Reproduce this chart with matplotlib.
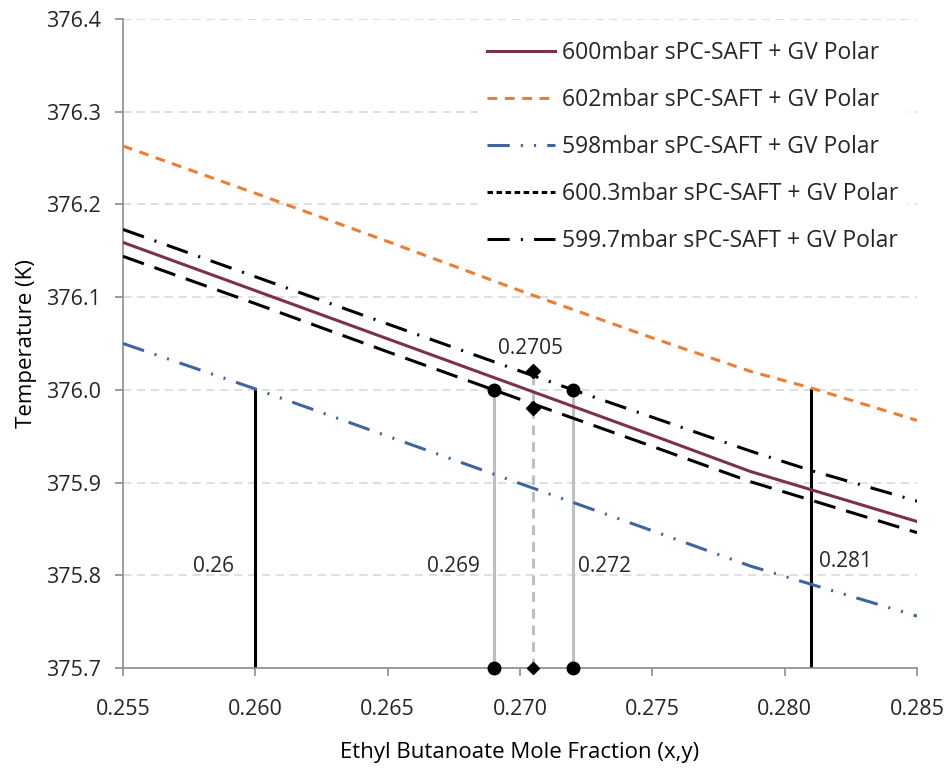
import matplotlib.pyplot as plt
from matplotlib.lines import Line2D

plt.rcParams['font.family'] = ['Open Sans', 'DejaVu Sans']
plt.rcParams['lines.scale_dashes'] = False

# model curves
x600 = [0.255, 0.260, 0.265, 0.270, 0.275, 0.2787, 0.285]
t600 = [376.159, 376.107, 376.055, 376.003, 375.951, 375.912, 375.858]

x602 = [0.255, 0.260, 0.265, 0.270, 0.275, 0.2787, 0.281, 0.285]
t602 = [376.263, 376.212, 376.160, 376.107, 376.056, 376.020, 376.002, 375.967]

x598 = [0.255, 0.260, 0.265, 0.270, 0.275, 0.2787, 0.285]
t598 = [376.050, 376.001, 375.950, 375.899, 375.848, 375.810, 375.756]

x6003 = [0.255, 0.260, 0.265, 0.269, 0.275, 0.2787, 0.281, 0.285]
t6003 = [376.144, 376.093, 376.041, 376.000, 375.939, 375.901, 375.881, 375.846]

x5997 = [0.255, 0.260, 0.265, 0.272, 0.2787, 0.281, 0.285]
t5997 = [376.173, 376.122, 376.071, 376.000, 375.934, 375.913, 375.880]

# vertical markers
x_black = [0.260, 0.281]
x_grey = [0.269, 0.272]
x_mid = 0.2705
t_base = 375.7
t_top = 376.0
t_mid = [376.02, 375.98]

labels = ["600mbar sPC-SAFT + GV Polar",
          "602mbar sPC-SAFT + GV Polar",
          "598mbar sPC-SAFT + GV Polar",
          "600.3mbar sPC-SAFT + GV Polar",
          "599.7mbar sPC-SAFT + GV Polar"]

c600 = '#7E2F4E'
c602 = '#ED7D31'
c598 = '#3D65A0'
txt = '#262626'
axc = '#8C8C8C'

fig = plt.figure(figsize=(9.49, 7.71), dpi=100)
ax = fig.add_axes([0.1296, 0.1336, 0.8367, 0.8418])

# vertical guide lines
for xv in x_black:
    ax.plot([xv, xv], [t_base, t_top], color='black', lw=2.2, zorder=2)
for xv in x_grey:
    ax.plot([xv, xv], [t_base, t_top], color='#BFBFBF', lw=2.2, zorder=2)
ax.plot([x_mid, x_mid], [t_base, t_mid[0]], color='#BFBFBF', lw=2.2,
        ls=(0, (7, 5)), zorder=2)

ax.plot(x600, t600, color=c600, lw=2.2, zorder=3)
ax.plot(x602, t602, color=c602, lw=2.2, ls=(0, (7, 5.5)), zorder=3)
ax.plot(x598, t598, color=c598, lw=2.2,
        ls=(0, (16, 8, 1.5, 8, 1.5, 8)), zorder=3)
ax.plot(x6003, t6003, color='black', lw=2.2, ls=(0, (16, 8)), zorder=3)
ax.plot(x5997, t5997, color='black', lw=2.2, ls=(0, (16, 8, 1.5, 8)), zorder=3)

# markers
ax.plot(x_grey, [t_top, t_top], 'o', color='black', ms=9, zorder=4, clip_on=False)
ax.plot(x_grey, [t_base, t_base], 'o', color='black', ms=9, zorder=4, clip_on=False)
ax.plot([x_mid, x_mid], t_mid, 'D', color='black', ms=7, zorder=4)
ax.plot([x_mid], [t_base], 'D', color='black', ms=6, zorder=4, clip_on=False)

# value labels
fs = 15
ax.text(0.2592, 375.81, "0.26", fontsize=fs, color=txt, ha='right', va='center')
ax.text(0.2685, 375.81, "0.269", fontsize=fs, color=txt, ha='right', va='center')
ax.text(0.2722, 375.81, "0.272", fontsize=fs, color=txt, ha='left', va='center')
ax.text(0.2813, 375.815, "0.281", fontsize=fs, color=txt, ha='left', va='center')
ax.text(0.2704, 376.033, "0.2705", fontsize=fs, color=txt, ha='center', va='bottom')

ax.set_xlim(0.255, 0.285)
ax.set_ylim(375.7, 376.4)
ax.set_xticks([0.255, 0.260, 0.265, 0.270, 0.275, 0.280, 0.285])
ax.set_xticklabels(['0.255', '0.260', '0.265', '0.270', '0.275', '0.280', '0.285'])
ax.set_yticks([375.7, 375.8, 375.9, 376.0, 376.1, 376.2, 376.3, 376.4])
ax.set_yticklabels(['375.7', '375.8', '375.9', '376.0', '376.1', '376.2', '376.3', '376.4'])
ax.tick_params(axis='both', labelsize=15.5, labelcolor=txt, color=axc,
               length=6, width=1.2, direction='out')
ax.tick_params(axis='x', pad=16)
ax.tick_params(axis='y', pad=10)
ax.yaxis.grid(True, color='#D9D9D9', lw=1.2, ls=(0, (6, 4)))
ax.set_axisbelow(True)
for s in ['top', 'right']:
    ax.spines[s].set_visible(False)
for s in ['left', 'bottom']:
    ax.spines[s].set_color(axc)
    ax.spines[s].set_linewidth(1.2)

ax.set_xlabel("Ethyl Butanoate Mole Fraction (x,y)", fontsize=16, color='black', labelpad=16)
ax.set_ylabel("Temperature (K)", fontsize=16, color='black', labelpad=6)

handles = [Line2D([], [], color=c600, lw=2.2),
           Line2D([], [], color=c602, lw=2.2, ls=(0, (7, 5.5))),
           Line2D([], [], color=c598, lw=2.2, ls=(0, (16, 8, 1.5, 8, 1.5, 8))),
           Line2D([], [], color='black', lw=2.2, ls=(0, (4, 2.5))),
           Line2D([], [], color='black', lw=2.2, ls=(0, (16, 8, 1.5, 8)))]
leg = ax.legend(handles, labels, loc='upper left', bbox_to_anchor=(0.447, 0.98),
                fontsize=16.5, frameon=True, framealpha=1, edgecolor='white',
                fancybox=False, handlelength=2.95, handletextpad=0.3,
                labelspacing=1.0, borderpad=0.4, borderaxespad=0)
for t in leg.get_texts():
    t.set_color(txt)

fig.savefig("out.png", dpi=100)
